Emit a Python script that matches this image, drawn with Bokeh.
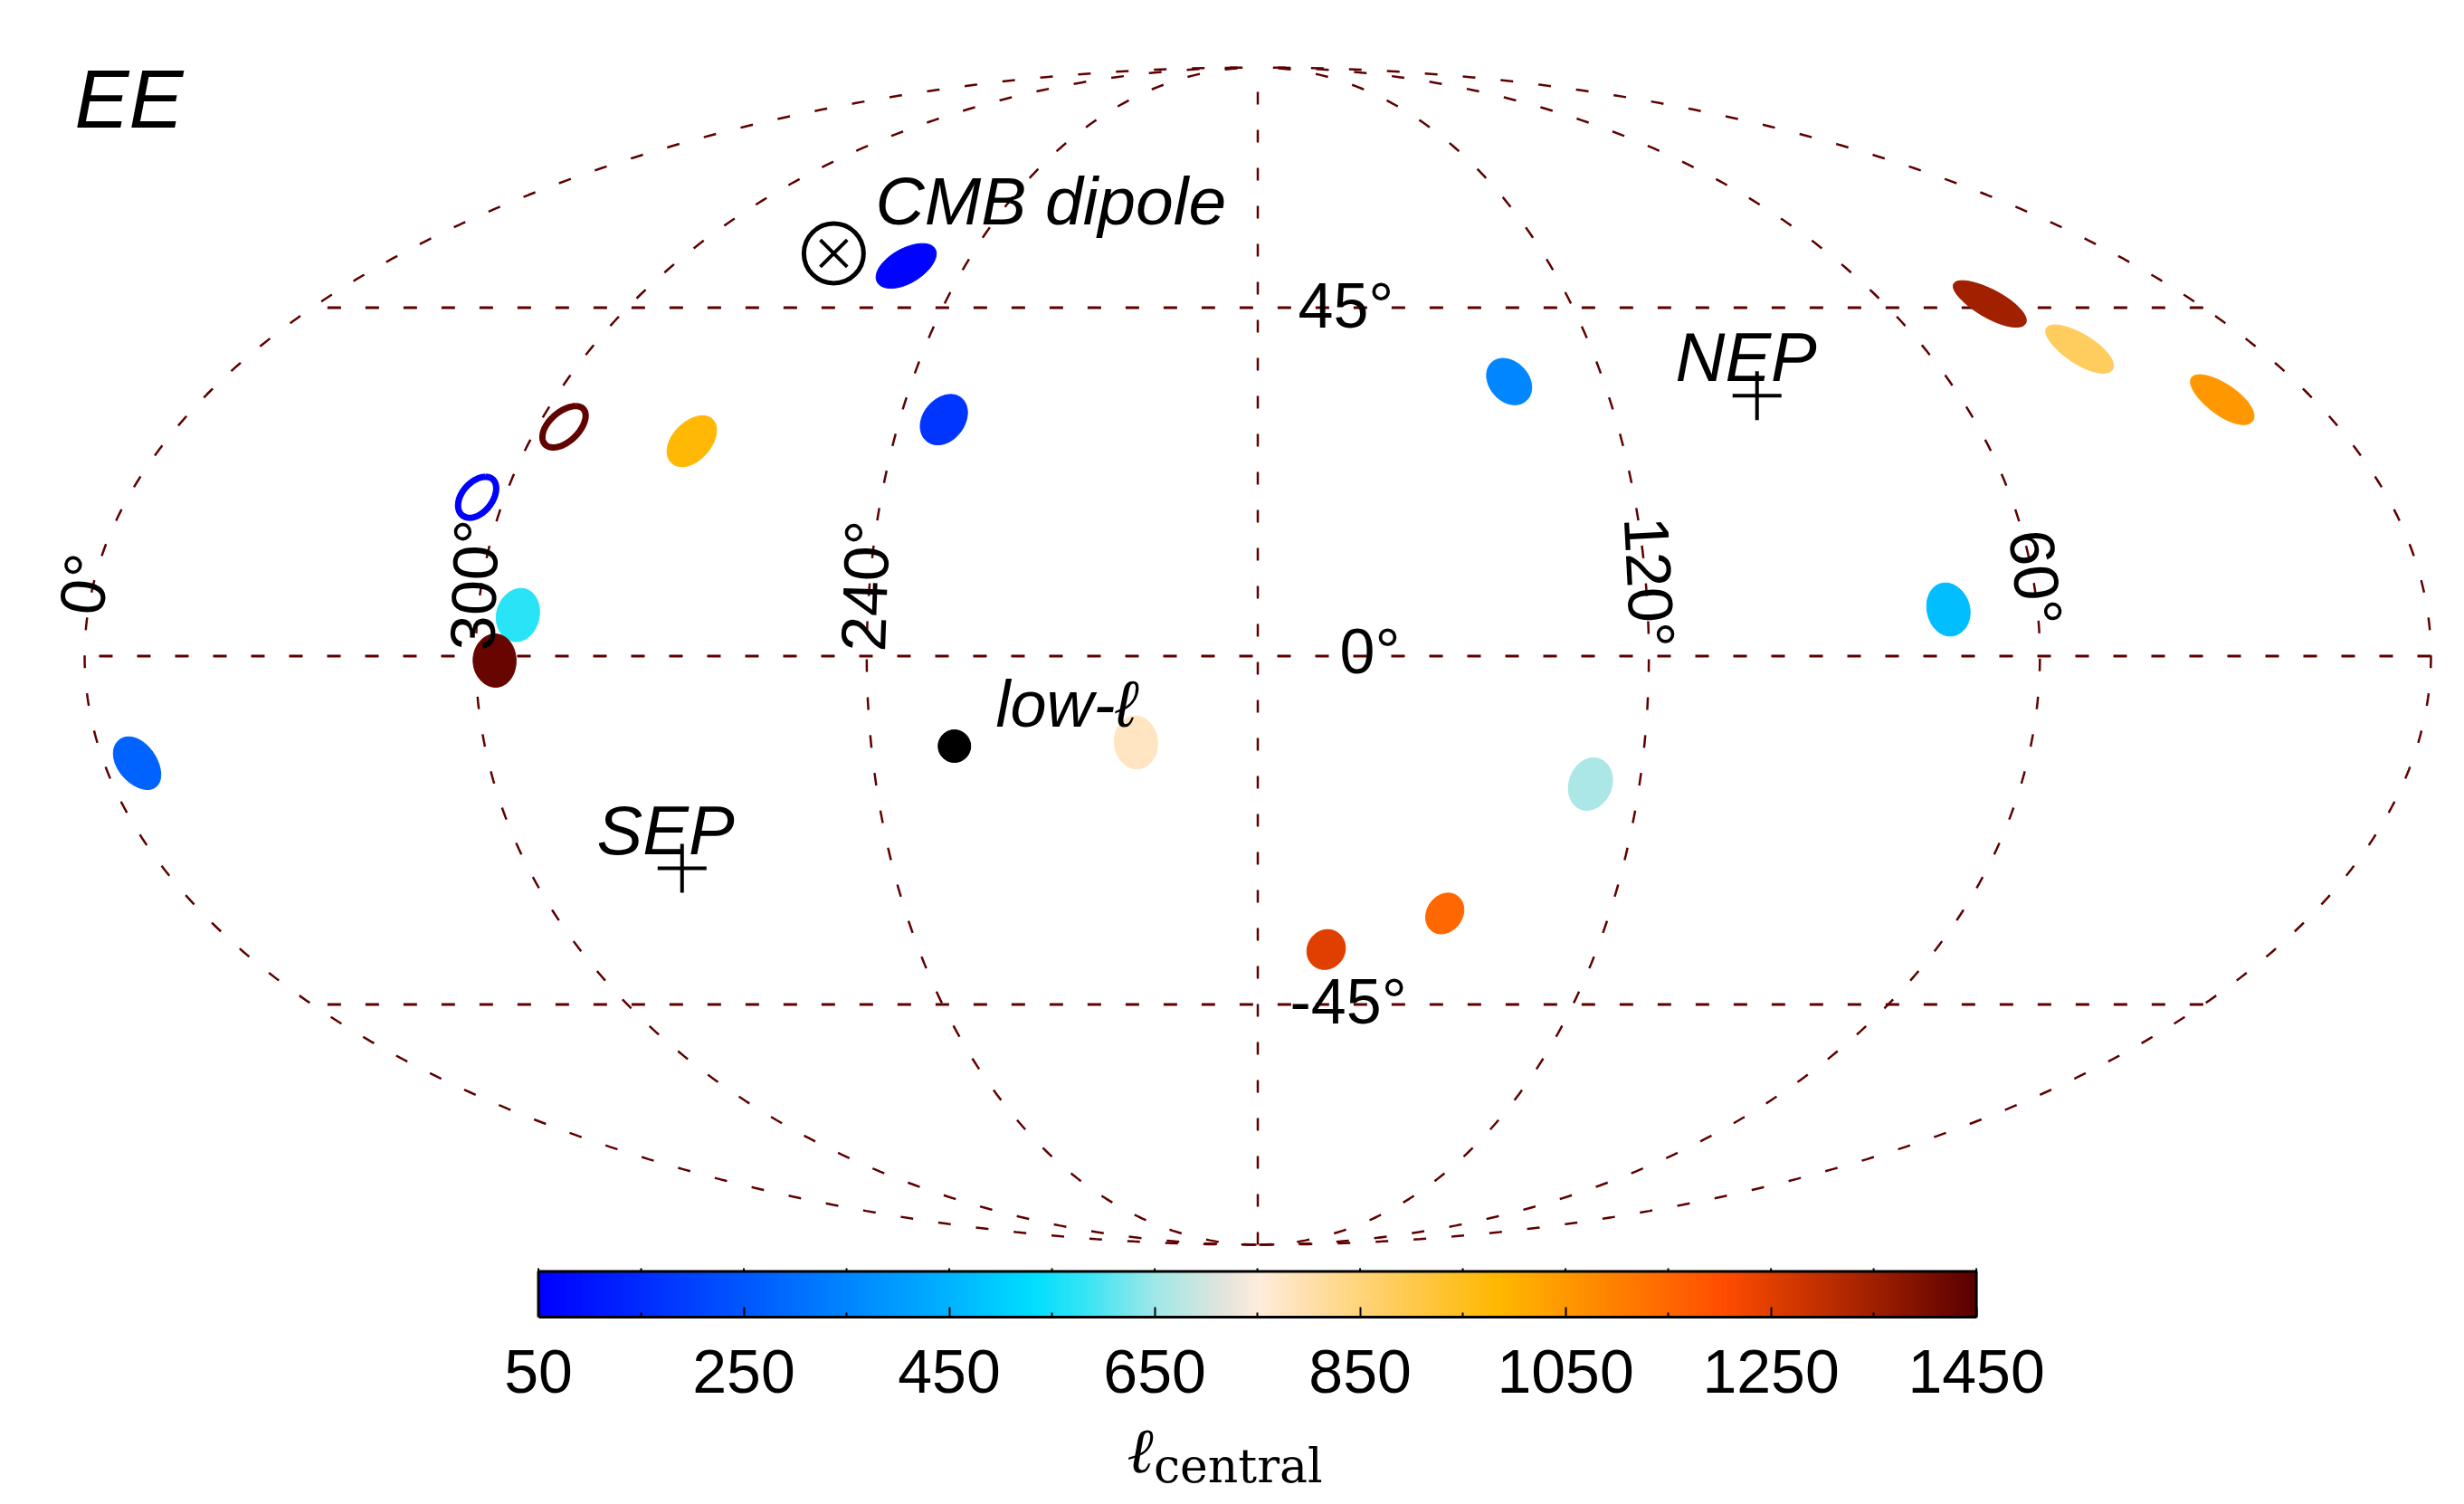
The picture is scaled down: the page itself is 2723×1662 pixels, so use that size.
import numpy as np
from bokeh.core.properties import value
from bokeh.embed import file_html
from bokeh.layouts import column
from bokeh.models import FixedTicker, LinearAxis, LinearColorMapper, Range1d
from bokeh.plotting import figure
from bokeh.resources import INLINE

# windows on the sky (galactic lon/lat in degrees) and their central multipole
win_lon = [252.1, 232.6, 273.3, 295.6, 304.4, 293.8, 297.1, 354.9, 198.9,
           136.4, 39.7, 32.1, 15.5, 73.7, 127.7, 148.1, 167.9]
win_lat = [51.05, 29.84, 27.03, 28.9, 19.84, 5.1, -0.56, -13.33, -10.73,
           34.87, 45.55, 39.27, 32.47, 5.78, -15.95, -32.59, -37.42]
win_ell = [60, 170, 980, 1440, 50, 570, 1430, 275, 780,
           350, 1350, 880, 1050, 470, 660, 1150, 1250]
win_hollow = [False, False, False, True, True, False, False, False, False,
              False, False, False, False, False, False, False, False]
win_radius = [3.3, 3.3, 3.3, 2.7, 2.6, 3.3, 3.3, 3.3, 3.3,
              3.1, 3.3, 3.3, 3.3, 3.3, 3.3, 2.7, 2.7]

low_ell_lon, low_ell_lat = [227.1], [-11.19]
pole_lon, pole_lat = [94.6, 274.7], [32.96, -26.67]
dipole_lon, dipole_lat = [269.2], [52.87]

grid_lons = [0.001, 60, 120, 180, 240, 300, 359.999]
grid_lats = [-45, 0, 45]

cbar_ticks = [50, 250, 450, 650, 850, 1050, 1250, 1450]
cbar_minor = [150, 350, 550, 750, 950, 1150, 1350]
cbar_top = [50, 150, 250, 350, 450, 550, 650, 750, 850, 950, 1050, 1150, 1250, 1350, 1450]

# colour table stops
stop_ell = [50, 250, 450, 530, 580, 650, 720, 750, 850, 985, 1205, 1350, 1450]
stop_col = ["#0000ff", "#0058ff", "#00b4ff", "#00deff", "#33e5f5", "#a0e8e8", "#e5e5dc",
            "#ffedde", "#ffd47a", "#ffb800", "#ff4d00", "#a02000", "#5a0000"]

GRID_COLOR = "#5e0000"
FONT = "Liberation Sans"

# where the map ellipse sits on the page
CX, CY, AX, AY = 1389.5, 724.5, 1296.5, 650.5
# where the colour bar sits on the page
BAR_L, BAR_R, BAR_T, BAR_B = 594.5, 2183.6, 1404.5, 1455.0
PAGE_W, MAP_H, BAR_H, TITLE_H = 2707, 1392, 160, 100


def px(x, y):
    return (x - CX) / AX, (CY - y) / AY


_theta = np.linspace(-np.pi / 2, np.pi / 2, 40001)
_f = 2 * _theta + np.sin(2 * _theta)

def mollweide(lon, lat):
    lon = np.asarray(lon, dtype=float)
    lat = np.radians(np.asarray(lat, dtype=float))
    theta = np.interp(np.pi * np.sin(lat), _f, _theta)
    return (180 - lon) / 180 * np.cos(theta), np.sin(theta)


def sky_disc(lon, lat, radius, n=72):
    # circle of given angular radius around (lon, lat)
    a = np.linspace(0, 2 * np.pi, n)
    r = np.radians(radius)
    lat0, lon0 = np.radians(lat), np.radians(lon)
    lat_ = np.arcsin(np.sin(lat0) * np.cos(r) + np.cos(lat0) * np.sin(r) * np.cos(a))
    lon_ = lon0 + np.arctan2(np.sin(a) * np.sin(r) * np.cos(lat0),
                             np.cos(r) - np.sin(lat0) * np.sin(lat_))
    return np.degrees(lon_), np.degrees(lat_)


def make_colors(n=512):
    rgb = np.array([[int(c[i:i + 2], 16) for i in (1, 3, 5)] for c in stop_col])
    ells = np.linspace(50, 1450, n)
    chans = [np.interp(ells, stop_ell, rgb[:, k]) for k in range(3)]
    return ["#%02x%02x%02x" % (int(r), int(g), int(b)) for r, g, b in zip(*chans)]


palette = make_colors()

def ell_color(ell):
    return palette[int(round((ell - 50) / 1400 * (len(palette) - 1)))]


x0, x1 = px(0, 0)[0], px(PAGE_W, 0)[0]
y0, y1 = px(0, MAP_H)[1], px(0, 0)[1]
p = figure(width=PAGE_W, height=MAP_H, x_range=Range1d(x0, x1), y_range=Range1d(y0, y1),
           x_axis_type=None, y_axis_type=None, toolbar_location=None, output_backend="svg",
           min_border=0, outline_line_color=None)
p.xgrid.grid_line_color = None
p.ygrid.grid_line_color = None

for lon in grid_lons:
    xs, ys = mollweide(np.full(400, lon), np.linspace(-89.99, 89.99, 400))
    p.line(xs, ys, line_color=GRID_COLOR, line_width=2.5, line_dash="14 28")
for lat in grid_lats:
    xs, ys = mollweide(np.linspace(0.001, 359.999, 200), np.full(200, lat))
    p.line(xs, ys, line_color=GRID_COLOR, line_width=3, line_dash="15 27")

for lon, lat, ell, hollow, rad in zip(win_lon, win_lat, win_ell, win_hollow, win_radius):
    xs, ys = mollweide(*sky_disc(lon, lat, rad))
    if hollow:
        p.line(xs, ys, line_color=ell_color(ell), line_width=7)
    else:
        p.patch(xs, ys, fill_color=ell_color(ell), line_color=ell_color(ell), line_width=1)

xs, ys = mollweide(low_ell_lon, low_ell_lat)
p.scatter(xs, ys, marker="circle", size=36, fill_color="black", line_color="black")
xs, ys = mollweide(pole_lon, pole_lat)
p.scatter(xs, ys, marker="cross", size=54, line_color="black", line_width=4)
xs, ys = mollweide(dipole_lon, dipole_lat)
p.scatter(xs, ys, marker="circle", size=66, fill_color=None, line_color="black", line_width=5)
p.scatter(xs, ys, marker="x", size=42, line_color="black", line_width=4)


def put(text, x, y, size, italic=False):
    # alphabetic baseline comes out about a third of the size low, so lift it
    dx, dy = px(x, y - 0.36 * size)
    p.text([dx], [dy], text=[text], text_font=value(FONT), text_font_size=f"{size}px",
           text_font_style="italic" if italic else "normal",
           text_align="left", text_baseline="alphabetic", text_color="black")


def put_rot(text, x, y, angle):
    dx, dy = px(x, y)
    p.text([dx], [dy], text=[text], text_font=value(FONT), text_font_size="70px",
           angle=np.radians(angle), text_align="center", text_baseline="middle", text_color="black")


put("EE", 82, 142, 90, italic=True)
put("CMB dipole", 967, 248, 75, italic=True)
put("NEP", 1851, 421, 76, italic=True)
put("SEP", 659, 944, 76, italic=True)
put("low-ℓ", 1100, 803, 72, italic=True)
put("45°", 1434, 363, 70)
put("0°", 1480, 745, 70)
put("-45°", 1425, 1132, 70)
put_rot("0°", 93, 645, 83)
put_rot("300°", 524, 646, 88)
put_rot("240°", 956, 647, 88)
put_rot("120°", 1822, 643, -87)
put_rot("60°", 2249, 638, -84)

# colour bar: same frame width as the map, the axis is bounded to the bar
ell_per_px = 1400 / (BAR_R - BAR_L)
ell_range = Range1d(50 - BAR_L * ell_per_px, 50 + (PAGE_W - BAR_L) * ell_per_px)
bar_h = BAR_B - BAR_T
cb = figure(width=PAGE_W, height=BAR_H, x_range=ell_range,
            y_range=Range1d(0, (BAR_B - MAP_H) / bar_h),
            x_axis_type=None, y_axis_type=None, toolbar_location=None, output_backend="svg",
            min_border=0, min_border_bottom=int(MAP_H + BAR_H - BAR_B), outline_line_color=None)
cb.xgrid.grid_line_color = None
cb.ygrid.grid_line_color = None
mapper = LinearColorMapper(palette=palette, low=50, high=1450)
cb.image(image=[np.linspace(50, 1450, 512).reshape(1, -1)], x=50, y=0, dw=1400, dh=1,
         color_mapper=mapper)
cb.quad(left=[50], right=[1450], bottom=[0], top=[1], fill_color=None, line_color="black", line_width=3)
cb.segment(cbar_top, [1.0] * len(cbar_top), cbar_top, [1.07] * len(cbar_top),
           line_color="black", line_width=2)

bottom = LinearAxis(ticker=FixedTicker(ticks=cbar_ticks, minor_ticks=cbar_minor), bounds=(50, 1450))
bottom.major_tick_in = 11
bottom.major_tick_out = 0
bottom.minor_tick_in = 5
bottom.minor_tick_out = 0
bottom.major_tick_line_width = 2
bottom.minor_tick_line_width = 2
bottom.axis_line_width = 3
bottom.major_label_standoff = 36
bottom.major_label_text_font = FONT
bottom.major_label_text_font_size = "68px"
bottom.major_label_text_color = "black"
cb.add_layout(bottom, "below")

# axis title in its own strip under the bar, y in page pixels
top_px = MAP_H + BAR_H
lb = figure(width=PAGE_W, height=TITLE_H, x_range=ell_range, y_range=Range1d(top_px + TITLE_H, top_px),
            x_axis_type=None, y_axis_type=None, toolbar_location=None, output_backend="svg",
            min_border=0, outline_line_color=None)
lb.xgrid.grid_line_color = None
lb.ygrid.grid_line_color = None
lb.text([623], [1628 - 0.36 * 70], text=["ℓ"], text_font=value("DejaVu Serif"), text_font_style="italic",
        text_font_size="70px", text_color="black", text_baseline="alphabetic")
lb.text([649], [1638 - 0.36 * 52], text=["central"], text_font=value("DejaVu Serif"),
        text_font_size="52px", text_color="black", text_baseline="alphabetic")

layout = column(p, cb, lb, spacing=0)
open("out.html", "w").write(file_html(layout, INLINE))
